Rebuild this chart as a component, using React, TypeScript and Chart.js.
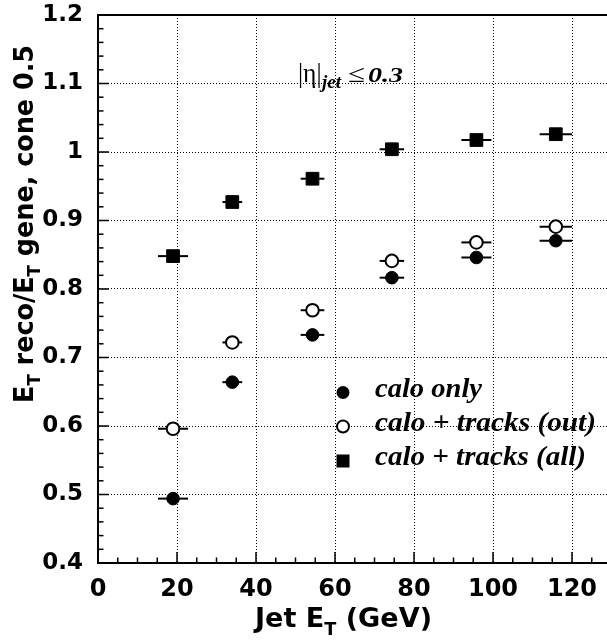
import React, { useEffect, useRef } from "react";
import { Chart, registerables } from "chart.js";

Chart.register(...registerables);

// ---- data ----
const jetEt = [19, 34, 54.3, 74.4, 95.8, 115.9];
const jetEtErr = [3.8, 2.5, 3.0, 3.1, 3.8, 4.1];
const caloOnly = [0.494, 0.664, 0.733, 0.8165, 0.846, 0.8705];
const caloTracksOut = [0.596, 0.722, 0.769, 0.841, 0.868, 0.891];
const caloTracksAll = [0.848, 0.927, 0.961, 1.004, 1.0175, 1.026];
const seriesLabels = ["calo only", "calo + tracks (out)", "calo + tracks (all)"];
const xRange = [0, 128.86];
const yRange = [0.4, 1.2];
const xMajorStep = 20;
const xMinorStep = 5;
const yMajorStep = 0.1;
const yMinorStep = 0.02;

type Seg = { t: string; font: string; dy?: number };

function segWidth(ctx: CanvasRenderingContext2D, segs: Seg[]) {
  let w = 0;
  for (const s of segs) {
    ctx.font = s.font;
    w += ctx.measureText(s.t).width;
  }
  return w;
}

function drawSegsFit(ctx: CanvasRenderingContext2D, segs: Seg[], x0: number, y0: number, targetW: number) {
  const natural = segWidth(ctx, segs);
  const sx = targetW / natural;
  ctx.save();
  ctx.translate(x0, y0);
  ctx.scale(sx, 1);
  ctx.textAlign = "left";
  ctx.textBaseline = "alphabetic";
  let cx = 0;
  for (const s of segs) {
    ctx.font = s.font;
    ctx.fillText(s.t, cx, s.dy || 0);
    cx += ctx.measureText(s.t).width;
  }
  ctx.restore();
}

const SANSB = (px: number) => `bold ${px}px "DejaVu Sans"`;
const SERIF = (px: number) => `${px}px "Liberation Serif"`;
const SERIFBI = (px: number) => `italic bold ${px}px "Liberation Serif"`;

const decorPlugin = {
  id: "decor",
  beforeDatasetsDraw(chart: any) {
    const ctx: CanvasRenderingContext2D = chart.ctx;
    const xs = chart.scales.x;
    const ys = chart.scales.y;
    const all = [caloOnly, caloTracksOut, caloTracksAll];
    ctx.save();
    ctx.strokeStyle = "#000";
    ctx.lineWidth = 2;
    for (const series of all) {
      series.forEach((v, i) => {
        const y = ys.getPixelForValue(v);
        const xa = xs.getPixelForValue(jetEt[i] - jetEtErr[i]);
        const xb = xs.getPixelForValue(jetEt[i] + jetEtErr[i]);
        ctx.beginPath();
        ctx.moveTo(xa, y);
        ctx.lineTo(xb, y);
        ctx.stroke();
      });
    }
    ctx.restore();
  },
  afterDraw(chart: any) {
    const ctx: CanvasRenderingContext2D = chart.ctx;
    const xs = chart.scales.x;
    const ys = chart.scales.y;
    const area = chart.chartArea;
    ctx.save();
    ctx.strokeStyle = "#000";
    ctx.fillStyle = "#000";

    // top frame line
    ctx.lineWidth = 2;
    ctx.beginPath();
    ctx.moveTo(area.left - 1, area.top);
    ctx.lineTo(area.right, area.top);
    ctx.stroke();

    // inward tick marks
    ctx.lineWidth = 1.5;
    for (let k = 0; ; k++) {
      const v = yRange[0] + k * yMinorStep;
      if (v > yRange[1] + 1e-9) break;
      const isMajor = Math.abs(v / yMajorStep - Math.round(v / yMajorStep)) < 1e-6;
      const py = ys.getPixelForValue(v);
      ctx.beginPath();
      ctx.moveTo(area.left, py);
      ctx.lineTo(area.left + (isMajor ? 11 : 5.5), py);
      ctx.stroke();
    }
    for (let k = 0; ; k++) {
      const v = xRange[0] + k * xMinorStep;
      if (v > xRange[1] + 1e-9) break;
      const isMajor = Math.abs(v / xMajorStep - Math.round(v / xMajorStep)) < 1e-6;
      const px = xs.getPixelForValue(v);
      ctx.beginPath();
      ctx.moveTo(px, area.bottom);
      ctx.lineTo(px, area.bottom - (isMajor ? 11 : 5.5));
      ctx.stroke();
    }

    // axis titles
    ctx.fillStyle = "#000";
    const xTitle: Seg[] = [
      { t: "Jet E", font: SANSB(26) },
      { t: "T", font: SANSB(17), dy: 8 },
      { t: " (GeV)", font: SANSB(26) },
    ];
    drawSegsFit(ctx, xTitle, 255, 627, 177);

    const yTitle: Seg[] = [
      { t: "E", font: SANSB(26) },
      { t: "T", font: SANSB(17), dy: 7 },
      { t: " reco/E", font: SANSB(26) },
      { t: "T", font: SANSB(17), dy: 7 },
      { t: " gene, cone 0.5", font: SANSB(26) },
    ];
    ctx.save();
    ctx.translate(33, 403);
    ctx.rotate(-Math.PI / 2);
    drawSegsFit(ctx, yTitle, 0, 0, 358);
    ctx.restore();

    // annotation |η|_jet ≤ 0.3
    drawSegsFit(ctx, [{ t: "|η|", font: SERIF(28) }], 298, 82, 23.5);
    drawSegsFit(ctx, [{ t: "jet", font: SERIFBI(18) }], 322, 88, 19);
    drawSegsFit(ctx, [{ t: "≤", font: SERIF(25) }], 348, 82, 17);
    drawSegsFit(ctx, [{ t: "0.3", font: SERIFBI(22) }], 368, 82, 35);

    // legend
    const lx = 343;
    const lys = [392.5, 426.5, 461];
    ctx.beginPath();
    ctx.arc(lx, lys[0], 6.5, 0, Math.PI * 2);
    ctx.fill();
    ctx.lineWidth = 2;
    ctx.fillStyle = "#fff";
    ctx.beginPath();
    ctx.arc(lx, lys[1], 6, 0, Math.PI * 2);
    ctx.fill();
    ctx.stroke();
    ctx.fillStyle = "#000";
    ctx.fillRect(lx - 6.5, lys[2] - 6.5, 13, 13);
    const legendWidths = [107, 221, 211];
    seriesLabels.forEach((lab, i) => {
      drawSegsFit(ctx, [{ t: lab, font: SERIFBI(28) }], 375, lys[i] + 4, legendWidths[i]);
    });

    ctx.restore();
  },
};

export default function App() {
  const canvasRef = useRef<HTMLCanvasElement | null>(null);

  useEffect(() => {
    if (!canvasRef.current) return;
    const mk = (vals: number[]) => jetEt.map((x, i) => ({ x, y: vals[i] }));
    const chart = new Chart(canvasRef.current, {
      type: "scatter",
      data: {
        datasets: [
          {
            label: seriesLabels[0],
            data: mk(caloOnly),
            pointStyle: "circle",
            pointRadius: 6.3,
            pointBackgroundColor: "#000",
            pointBorderColor: "#000",
            pointBorderWidth: 1,
            showLine: false,
          },
          {
            label: seriesLabels[1],
            data: mk(caloTracksOut),
            pointStyle: "circle",
            pointRadius: 6.3,
            pointBackgroundColor: "#fff",
            pointBorderColor: "#000",
            pointBorderWidth: 2,
            showLine: false,
          },
          {
            label: seriesLabels[2],
            data: mk(caloTracksAll),
            pointStyle: "rect",
            pointRadius: 9,
            pointBackgroundColor: "#000",
            pointBorderColor: "#000",
            pointBorderWidth: 1,
            showLine: false,
          },
        ],
      },
      options: {
        animation: false,
        responsive: false,
        maintainAspectRatio: false,
        devicePixelRatio: 1,
        layout: { autoPadding: false, padding: { top: 15, left: 0, right: 0, bottom: 0 } },
        plugins: { legend: { display: false }, tooltip: { enabled: false } },
        scales: {
          x: {
            type: "linear",
            min: xRange[0],
            max: xRange[1],
            afterFit: (s: any) => {
              s.height = 81;
              s.paddingLeft = 0;
              s.paddingRight = 0;
            },
            ticks: {
              stepSize: xMajorStep,
              includeBounds: false,
              maxRotation: 0,
              color: "#000",
              padding: 12,
              font: { family: "DejaVu Sans", weight: "bold", size: 24 },
            },
            grid: { color: "#000", lineWidth: 1, drawTicks: false },
            border: { color: "#000", width: 2, dash: [1, 2] },
          },
          y: {
            type: "linear",
            min: yRange[0],
            max: yRange[1],
            afterFit: (s: any) => {
              s.width = 98;
              s.paddingTop = 0;
              s.paddingBottom = 0;
            },
            ticks: {
              stepSize: yMajorStep,
              includeBounds: false,
              color: "#000",
              padding: 15,
              font: { family: "DejaVu Sans", weight: "bold", size: 23 },
              callback: (v: any) => String(Number(Number(v).toFixed(1))),
            },
            grid: { color: "#000", lineWidth: 1, drawTicks: false },
            border: { color: "#000", width: 2, dash: [1, 2] },
          },
        },
      },
      plugins: [decorPlugin],
    } as any);
    return () => chart.destroy();
  }, []);

  return (
    <div style={{ position: "fixed", left: 0, top: 0, width: 607, height: 644, background: "#fff" }}>
      <canvas ref={canvasRef} width={607} height={644} style={{ display: "block", width: 607, height: 644 }} />
    </div>
  );
}
